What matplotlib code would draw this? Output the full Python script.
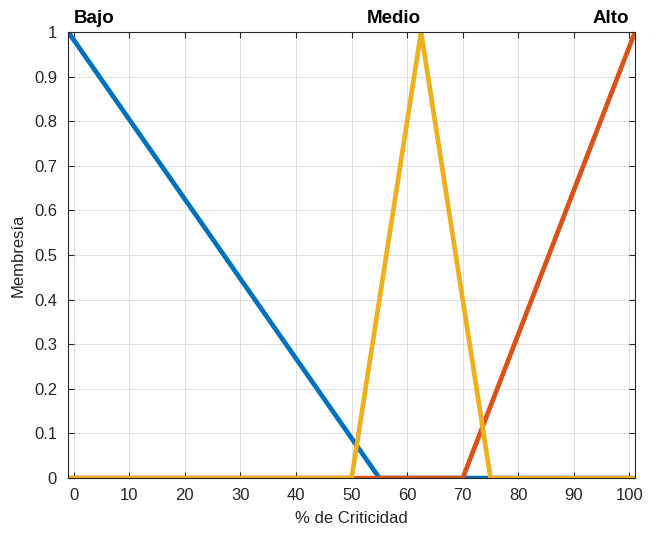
import numpy as np
import matplotlib.pyplot as plt

plt.rcParams['font.family'] = ['Liberation Sans', 'DejaVu Sans']

# membership functions over the universe [-1, 101]
bajo_x = [-1, 55, 101]
bajo_y = [1, 0, 0]
alto_x = [-1, 70, 101]
alto_y = [0, 0, 1]
medio_x = [-1, 50, 62.5, 75, 101]
medio_y = [0, 0, 1, 0, 0]

names = ["Bajo", "Medio", "Alto"]
label_x = [0, 62.5, 100]
label_ha = ["left", "right", "right"]

xticks = np.arange(0, 101, 10)
yticks = np.arange(0, 1.01, 0.1)
ytick_labels = ["0", "0.1", "0.2", "0.3", "0.4", "0.5", "0.6", "0.7", "0.8", "0.9", "1"]

blue = "#0072BD"
orange = "#D95319"
yellow = "#EDB120"

fig = plt.figure(figsize=(6.56, 5.33), dpi=100)
ax = fig.add_axes([0.104, 0.103, 0.864, 0.837])

ax.plot(bajo_x, bajo_y, color=blue, linewidth=3.4, solid_capstyle="butt")
ax.plot(alto_x, alto_y, color=orange, linewidth=3.4, solid_capstyle="butt")
ax.plot(medio_x, medio_y, color=yellow, linewidth=3.4, solid_capstyle="butt")

for name, x, ha in zip(names, label_x, label_ha):
    ax.text(x, 1.012, name, ha=ha, va="bottom", fontsize=13.5, fontweight="bold")

ax.set_xlim(-1, 101)
ax.set_ylim(0, 1)
ax.set_xticks(xticks)
ax.set_yticks(yticks)
ax.set_yticklabels(ytick_labels)
ax.tick_params(direction="in", labelsize=12, colors="#262626", length=4,
               top=True, right=True)
ax.tick_params(axis="x", pad=7)
ax.tick_params(axis="y", pad=8)
ax.grid(True, color="#dfdfdf", linewidth=0.7)
ax.set_axisbelow(True)
for s in ax.spines.values():
    s.set_color("#262626")
    s.set_linewidth(0.8)

ax.set_xlabel("% de Criticidad", fontsize=12, color="#262626", labelpad=6)
ax.set_ylabel("Membresía", fontsize=12, color="#262626", labelpad=6)

fig.savefig("out.png", dpi=100)
